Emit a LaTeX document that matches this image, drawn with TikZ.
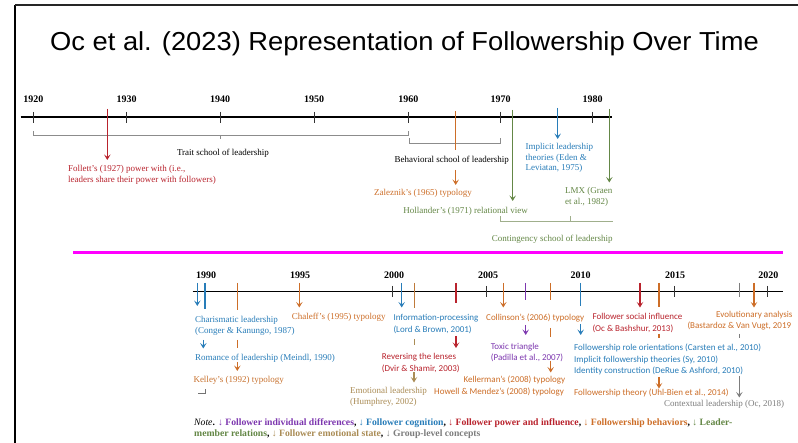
\documentclass[tikz,border=0pt]{standalone}
\usepackage{fontspec}
\setmainfont{Liberation Serif}
\newfontfamily\carl{Carlito}
\newfontfamily\arialf{Liberation Sans}
\usetikzlibrary{arrows.meta}
\definecolor{cred}{RGB}{185,35,45}
\definecolor{cblue}{RGB}{40,125,185}
\definecolor{corange}{RGB}{205,110,40}
\definecolor{cgreen}{RGB}{100,135,70}
\definecolor{ctan}{RGB}{170,140,85}
\definecolor{cgray}{RGB}{125,125,125}
\definecolor{cpurple}{RGB}{125,55,175}
\definecolor{cbrk}{RGB}{140,140,140}
\definecolor{cgbrk}{RGB}{160,175,140}
\definecolor{cmag}{RGB}{255,0,255}
\tikzset{
  lab/.style={inner sep=0pt, anchor=base west, font=\fontsize{9}{10}\selectfont},
  labc/.style={inner sep=0pt, anchor=base, font=\fontsize{9}{10}\selectfont},
  slab/.style={inner sep=0pt, anchor=base west, font=\carl\fontsize{9}{10}\selectfont},
  yr/.style={inner sep=0pt, anchor=base, font=\bfseries\fontsize{10}{11}\selectfont},
  axisline/.style={line width=1.5pt, black},
  tickline/.style={line width=0.8pt, black!80},
  brk/.style={line width=0.6pt, cbrk},
  mk/.style={line width=1.2pt},
  arr/.style={mk, -{Stealth[length=5.5pt,width=6.5pt,inset=2.5pt]}},
}
\begin{document}
\begin{tikzpicture}[x=1pt,y=-1pt]
\useasboundingbox (0,0) rectangle (798,443);
\fill[white] (0,0) rectangle (798,443);
% frame
\coordinate (fr1) at (15,443); \coordinate (fr2) at (15,5); \coordinate (fr3) at (798,5);
\draw[line width=2.6pt, black] (fr1) -- (fr2);
\draw[line width=2pt, black!85] (fr2) -- (fr3);
% title
\node[inner sep=0pt, anchor=base west] (title) at (50,50.5)
  {\scalebox{1.05}[1]{\arialf\fontsize{26}{30}\selectfont Oc et al. (2023) Representation of Followership Over Time}};

%================ TOP TIMELINE =================
\coordinate (ta) at (20.7,117); \coordinate (tb) at (611.7,117);
\draw[axisline] (ta) -- (tb);
\foreach \x/\y in {33.3/1920,126.7/1930,220/1940,314/1950,408.3/1960,500.7/1970,592.7/1980}{
  \draw[tickline] (\x,112) -- (\x,123);
  \node[yr] (ty\y) at (\x,102.5) {\y};
}
% brackets
\coordinate (tr1) at (33.3,131); \coordinate (tr2) at (408,131);
\draw[brk] (tr1) -- (33.3,135) -- (408,135) -- (tr2);
\draw[brk] (220,135) -- (220,139.5);
\node[labc] (trait) at (223,155.5) {Trait school of leadership};
\coordinate (bh1) at (409.5,138); \coordinate (bh2) at (500.7,138);
\draw[brk] (bh1) -- (409.5,143) -- (500.7,143) -- (bh2);
\node[labc] (behav) at (451.7,163) {Behavioral school of leadership};
\coordinate (ct1) at (500.7,216.5); \coordinate (ct2) at (613,221);
\draw[line width=0.6pt, cgbrk] (ct1) -- (500.7,221) -- (ct2);
\draw[line width=0.6pt, cgbrk] (570,221) -- (570,216);
\node[labc, text=cgreen] (conting) at (552.3,242) {Contingency school of leadership};
% Follett
\coordinate (fo1) at (107.3,109); \coordinate (fo2) at (107.3,160);
\draw[arr, cred] (fo1) -- (fo2);
\node[lab, text=cred] (fol1) at (68,172) {Follett’s (1927) power with (i.e.,};
\node[lab, text=cred] (fol2) at (68,183) {leaders share their power with followers)};
% Zaleznik
\coordinate (za1) at (455.7,111); \coordinate (za2) at (455.7,150);
\draw[mk, corange] (za1) -- (za2);
\coordinate (za3) at (455.7,170); \coordinate (za4) at (455.7,185);
\draw[arr, corange] (za3) -- (za4);
\node[labc, text=corange] (zal) at (423,196) {Zaleznik’s (1965) typology};
% Hollander
\coordinate (ho1) at (512.7,110); \coordinate (ho2) at (512.7,201);
\draw[arr, cgreen] (ho1) -- (ho2);
\node[labc, text=cgreen] (hol) at (465.7,213.5) {Hollander’s (1971) relational view};
% Implicit leadership
\coordinate (il1) at (557.7,108); \coordinate (il2) at (557.7,139);
\draw[arr, cblue] (il1) -- (il2);
\node[lab, text=cblue] (ilt1) at (525.3,150) {Implicit leadership};
\node[lab, text=cblue] (ilt2) at (525.3,160.5) {theories (Eden \&};
\node[lab, text=cblue] (ilt3) at (525.3,171) {Leviatan, 1975)};
% LMX
\coordinate (lm1) at (609.3,109); \coordinate (lm2) at (609.3,182.5);
\draw[arr, cgreen] (lm1) -- (lm2);
\node[lab, text=cgreen] (lmx1) at (565,194) {LMX (Graen};
\node[lab, text=cgreen] (lmx2) at (565,204.5) {et al., 1982)};

% magenta separator
\coordinate (mg1) at (73.3,252.7); \coordinate (mg2) at (783,252.7);
\draw[line width=3pt, cmag] (mg1) -- (mg2);

%================ BOTTOM TIMELINE =================
\coordinate (ba) at (192.7,291.7); \coordinate (bb) at (782.7,291.7);
\draw[axisline] (ba) -- (bb);
\foreach \x in {205,299.3,392.7,486.7,580.7,674.3,767.7}{
  \draw[tickline] (\x,286) -- (\x,297);
}
\foreach \x/\y in {206/1990,300/1995,394/2000,488/2005,580.7/2010,675/2015,768.3/2020}{
  \node[yr] (by\y) at (\x,278.4) {\y};
}
% Charismatic
\coordinate (ch1) at (197.3,283); \coordinate (ch2) at (197.3,306);
\draw[arr, cblue] (ch1) -- (ch2);
\node[lab, text=cblue] (cha1) at (195,323) {Charismatic leadership};
\node[lab, text=cblue] (cha2) at (195,334) {(Conger \& Kanungo, 1987)};
% Romance
\coordinate (ro1) at (205,283); \coordinate (ro2) at (205,309);
\draw[mk, cblue] (ro1) -- (ro2);
\coordinate (ro3) at (203.3,340); \coordinate (ro4) at (203.3,348.5);
\draw[arr, cblue] (ro3) -- (ro4);
\node[lab, text=cblue] (rom) at (195,360.7) {Romance of leadership (Meindl, 1990)};
% Kelley
\coordinate (ke1) at (237.3,283); \coordinate (ke2) at (237.3,310);
\draw[mk, corange] (ke1) -- (ke2);
\coordinate (ke3) at (237.3,340); \coordinate (ke4) at (237.3,348);
\draw[mk, corange] (ke3) -- (ke4);
\coordinate (ke5) at (237.3,362); \coordinate (ke6) at (237.3,371);
\draw[arr, corange] (ke5) -- (ke6);
\node[lab, text=corange!85!ctan] (kel) at (193.3,383) {Kelley’s (1992) typology};
\coordinate (km1) at (198,393.5); \coordinate (km2) at (205.5,389);
\draw[line width=0.6pt, black!55] (km1) -- (205.5,393.5) -- (km2);
% Chaleff
\coordinate (cf1) at (299.3,283); \coordinate (cf2) at (299.3,307.5);
\draw[arr, corange] (cf1) -- (cf2);
\node[lab, text=corange] (chal) at (291.7,319.7) {Chaleff’s (1995) typology};
% Information-processing
\coordinate (ip1) at (401.7,283); \coordinate (ip2) at (401.7,307.5);
\draw[arr, cblue] (ip1) -- (ip2);
\node[slab, text=cblue] (inf1) at (393.3,320.3) {Information-processing};
\node[slab, text=cblue] (inf2) at (393.3,333) {(Lord \& Brown, 2001)};
% Emotional leadership
\coordinate (em1) at (414.3,283); \coordinate (em2) at (414.3,308);
\draw[mk, corange!60!ctan] (em1) -- (em2);
\coordinate (em3) at (414.3,339); \coordinate (em4) at (414.3,345.5);
\draw[mk, ctan] (em3) -- (em4);
\coordinate (em5) at (414,372); \coordinate (em6) at (414,382.5);
\draw[arr, ctan] (em5) -- (em6);
\node[lab, text=ctan] (emo1) at (350,393.7) {Emotional leadership};
\node[lab, text=ctan] (emo2) at (350,404.7) {(Humphrey, 2002)};
% Reversing the lenses
\coordinate (rv1) at (456,283); \coordinate (rv2) at (456,303);
\draw[mk, cred] (rv1) -- (rv2);
\coordinate (rv3) at (456,336); \coordinate (rv4) at (456,348);
\draw[arr, cred] (rv3) -- (rv4);
\node[slab, text=cred] (rev1) at (381.7,359.7) {Reversing the lenses};
\node[slab, text=cred] (rev2) at (381.7,371.3) {(Dvir \& Shamir, 2003)};
% Collinson
\coordinate (co1) at (503.3,283); \coordinate (co2) at (503.3,307.5);
\draw[arr, corange] (co1) -- (co2);
\node[slab, text=corange] (col) at (486,320.7) {Collinson’s (2006) typology};
% Toxic triangle
\coordinate (tx1) at (525.7,283); \coordinate (tx2) at (525.7,300);
\draw[mk, cpurple] (tx1) -- (tx2);
\coordinate (tx3) at (525.7,325); \coordinate (tx4) at (525.7,335);
\draw[arr, cpurple] (tx3) -- (tx4);
\node[slab, text=cpurple] (tox1) at (490.7,349.7) {Toxic triangle};
\node[slab, text=cpurple] (tox2) at (490.7,360.3) {(Padilla et al., 2007)};
% Kellerman / Howell
\coordinate (kl1) at (550.7,283); \coordinate (kl2) at (550.7,300);
\draw[mk, corange] (kl1) -- (kl2);
\coordinate (kl3) at (550.7,328); \coordinate (kl4) at (550.7,337);
\draw[mk, corange] (kl3) -- (kl4);
\coordinate (kl5) at (550.7,361); \coordinate (kl6) at (550.7,372.5);
\draw[arr, corange] (kl5) -- (kl6);
\node[slab, text=corange] (kell) at (463.3,383) {Kellerman’s (2008) typology};
\node[slab, text=corange] (how) at (434,394.7) {Howell \& Mendez’s (2008) typology};
% 2010 group
\coordinate (tn1) at (580.7,283); \coordinate (tn2) at (580.7,306);
\draw[mk, cblue] (tn1) -- (tn2);
\coordinate (tn3) at (580.7,324); \coordinate (tn4) at (580.7,335);
\draw[arr, cblue] (tn3) -- (tn4);
\node[slab, text=cblue] (fro) at (574,350.3) {Followership role orientations (Carsten et al., 2010)};
\node[slab, text=cblue] (ift) at (574,362.3) {Implicit followership theories (Sy, 2010)};
\node[slab, text=cblue] (idc) at (574,374) {Identity construction (DeRue \& Ashford, 2010)};
% Follower social influence
\coordinate (fs1) at (640,283); \coordinate (fs2) at (640,307.5);
\draw[arr, cred] (fs1) -- (fs2);
\node[slab, text=cred] (fsi1) at (592.3,319.7) {Follower social influence};
\node[slab, text=cred] (fsi2) at (592.3,331.3) {(Oc \& Bashshur, 2013)};
% Followership theory
\coordinate (ft1) at (659,283); \coordinate (ft2) at (659,307);
\draw[mk, corange] (ft1) -- (ft2);
\coordinate (ft3) at (659,334); \coordinate (ft4) at (659,338);
\draw[mk, corange] (ft3) -- (ft4);
\coordinate (ft5) at (659,377); \coordinate (ft6) at (659,388.5);
\draw[arr, corange] (ft5) -- (ft6);
\node[slab, text=corange] (fth) at (574,395.7) {Followership theory (Uhl-Bien et al., 2014)};
% Contextual leadership
\coordinate (cx1) at (739.3,283); \coordinate (cx2) at (739.3,297);
\draw[mk, cgray] (cx1) -- (cx2);
\coordinate (cx3) at (739.3,334); \coordinate (cx4) at (739.3,338);
\draw[mk, cgray] (cx3) -- (cx4);
\coordinate (cx5) at (739.3,376); \coordinate (cx6) at (739.3,397.5);
\draw[arr, cgray] (cx5) -- (cx6);
\node[lab, text=cgray] (ctx) at (664,407) {Contextual leadership (Oc, 2018)};
% Evolutionary analysis
\coordinate (ev1) at (754,283); \coordinate (ev2) at (754,307.5);
\draw[arr, corange] (ev1) -- (ev2);
\node[slab, text=corange] (evo1) at (716,318) {Evolutionary analysis};
\node[slab, text=corange] (evo2) at (687.3,328.7) {(Bastardoz \& Van Vugt, 2019};

% Note
\node[inner sep=0pt, anchor=base west, font=\bfseries\fontsize{9.7}{11}\selectfont] (note1) at (194,426)
 {\textit{\mdseries Note}. {\color{cpurple}\mdseries ↓} {\color{cpurple}Follower individual differences}, {\color{cblue}\mdseries ↓} {\color{cblue}Follower cognition}, {\color{cred}\mdseries ↓} {\color{cred}Follower power and influence}, {\color{corange}\mdseries ↓} {\color{corange}Followership behaviors}, {\color{cgreen}\mdseries ↓} {\color{cgreen}Leader-}};
\node[inner sep=0pt, anchor=base west, font=\bfseries\fontsize{9.7}{11}\selectfont] (note2) at (194,437)
 {{\color{cgreen}member relations}, {\color{ctan}\mdseries ↓} {\color{ctan}Follower emotional state}, {\color{cgray}\mdseries ↓} {\color{cgray}Group-level concepts}};
\end{tikzpicture}
\end{document}
